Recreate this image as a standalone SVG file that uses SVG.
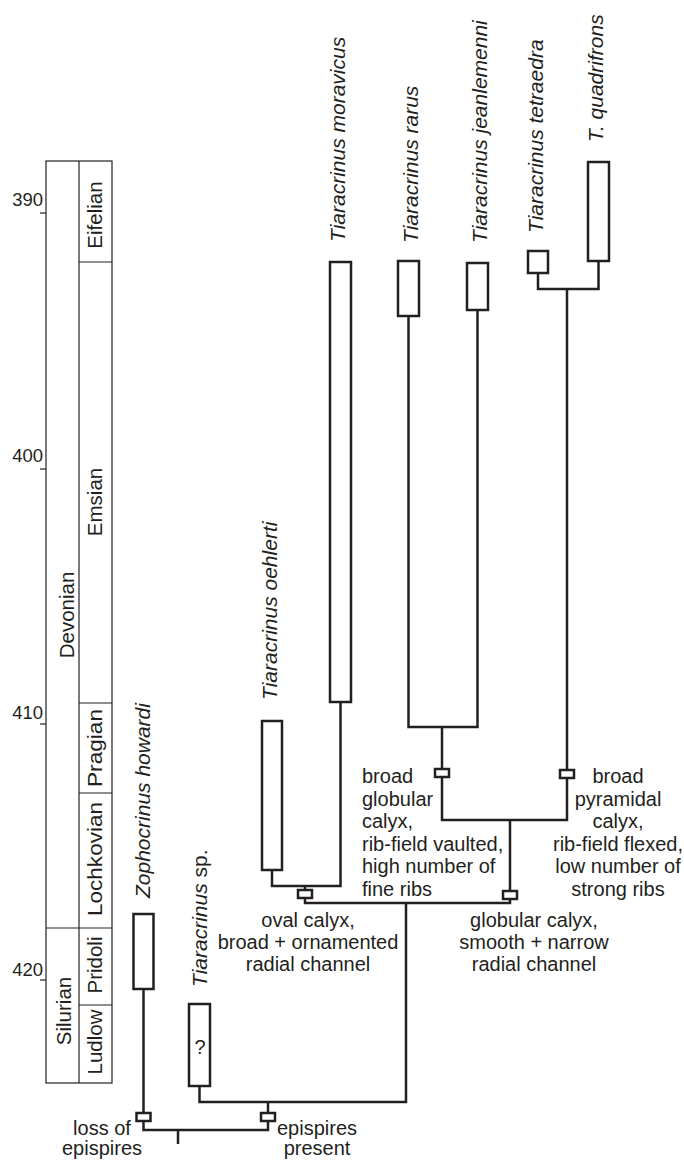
<svg xmlns="http://www.w3.org/2000/svg" width="684" height="1160" viewBox="0 0 684 1160">
<style>
.ts{fill:none;stroke:#231f20;stroke-width:1.2}
.br{fill:none;stroke:#231f20;stroke-width:2.5;stroke-linejoin:miter}
.box{fill:#fff;stroke:#231f20;stroke-width:2.5}
.mk{fill:#fff;stroke:#231f20;stroke-width:2.5}
text{font-family:"Liberation Sans",Arial,Helvetica,sans-serif;fill:#231f20}
.sp{font-size:21px;font-style:italic}
.lb{font-size:20px}
.age{font-size:18.5px;text-anchor:end}
.unit{font-size:20.5px;text-anchor:middle}
</style>
<rect width="684" height="1160" fill="#fff"/>
<g id="timescale">
<rect class="ts" x="46" y="161" width="66" height="922"/>
<line class="ts" x1="79" y1="161" x2="79" y2="1083"/>
<line class="ts" x1="79" y1="262" x2="112" y2="262"/>
<line class="ts" x1="79" y1="703" x2="112" y2="703"/>
<line class="ts" x1="79" y1="793" x2="112" y2="793"/>
<line class="ts" x1="46" y1="928" x2="112" y2="928"/>
<line class="ts" x1="79" y1="1005" x2="112" y2="1005"/>
<line class="ts" x1="40" y1="213" x2="46" y2="213"/>
<line class="ts" x1="40" y1="469" x2="46" y2="469"/>
<line class="ts" x1="40" y1="724" x2="46" y2="724"/>
<line class="ts" x1="40" y1="980" x2="46" y2="980"/>
<text class="age" x="43" y="206">390</text>
<text class="age" x="43" y="462">400</text>
<text class="age" x="43" y="719">410</text>
<text class="age" x="43" y="976">420</text>
<text class="unit" transform="translate(101.5,215) rotate(-90)">Eifelian</text>
<text class="unit" transform="translate(101.5,502) rotate(-90)">Emsian</text>
<text class="unit" transform="translate(101.5,748) rotate(-90)" textLength="78" lengthAdjust="spacingAndGlyphs">Pragian</text>
<text class="unit" transform="translate(101.5,859) rotate(-90)" textLength="114" lengthAdjust="spacingAndGlyphs">Lochkovian</text>
<text class="unit" transform="translate(101.5,965) rotate(-90)">Pridoli</text>
<text class="unit" transform="translate(101.5,1042) rotate(-90)">Ludlow</text>
<text class="unit" transform="translate(74,615) rotate(-90)">Devonian</text>
<text class="unit" transform="translate(71,1011) rotate(-90)">Silurian</text>
</g>
<g id="connectors">
<path class="br" d="M538,273 V289 H598.5 V261"/>
<path class="br" d="M567,289 V770"/>
<path class="br" d="M567,778 V820 H442 V778"/>
<path class="br" d="M442,769 V727"/>
<path class="br" d="M408.5,316 V727 H477.5 V310"/>
<path class="br" d="M510,820 V891"/>
<path class="br" d="M510,899 V903 H305 V899"/>
<path class="br" d="M305,890 V886"/>
<path class="br" d="M272,870 V886 H340.5 V702"/>
<path class="br" d="M406,903 V1102 H199.5 V1086"/>
<path class="br" d="M268,1102 V1113"/>
<path class="br" d="M268,1121 V1130 H143.5 V1121"/>
<path class="br" d="M143.5,1113 V989"/>
<path class="br" d="M178,1130 V1144"/>
</g>
<g id="markers">
<rect class="mk" x="560" y="770" width="14" height="8"/>
<rect class="mk" x="435" y="769" width="14" height="8"/>
<rect class="mk" x="503" y="891" width="14" height="8"/>
<rect class="mk" x="298" y="890" width="14" height="8"/>
<rect class="mk" x="261" y="1113" width="14" height="8"/>
<rect class="mk" x="136.5" y="1113" width="14" height="8"/>
</g>
<g id="node-moravicus">
<rect class="box" x="330" y="262" width="21" height="440"/>
<text class="sp" transform="translate(345,242) rotate(-90)">Tiaracrinus moravicus</text>
</g>
<g id="node-rarus">
<rect class="box" x="398" y="261" width="21" height="55"/>
<text class="sp" transform="translate(418,243) rotate(-90)">Tiaracrinus rarus</text>
</g>
<g id="node-jeanlemenni">
<rect class="box" x="467" y="263" width="21" height="47"/>
<text class="sp" transform="translate(487,243) rotate(-90)">Tiaracrinus jeanlemenni</text>
</g>
<g id="node-tetraedra">
<rect class="box" x="528" y="251" width="20" height="22"/>
<text class="sp" transform="translate(543,233) rotate(-90)">Tiaracrinus tetraedra</text>
</g>
<g id="node-quadrifrons">
<rect class="box" x="588" y="162" width="21" height="99"/>
<text class="sp" transform="translate(603,142) rotate(-90)">T. quadrifrons</text>
</g>
<g id="node-oehlerti">
<rect class="box" x="262" y="721" width="20" height="149"/>
<text class="sp" transform="translate(277,700) rotate(-90)">Tiaracrinus oehlerti</text>
</g>
<g id="node-zophocrinus">
<rect class="box" x="133.5" y="914" width="20" height="75"/>
<text class="sp" transform="translate(150,898) rotate(-90)">Zophocrinus howardi</text>
</g>
<g id="node-tiaracrinus-sp">
<rect class="box" x="189" y="1004" width="21" height="82"/>
<text class="lb" x="200" y="1054" text-anchor="middle">?</text>
<text class="sp" transform="translate(207,987) rotate(-90)">Tiaracrinus<tspan font-style="normal"> sp.</tspan></text>
</g>
<g id="label-broad-globular">
<text class="lb" x="362" y="783">broad</text>
<text class="lb" x="362" y="806">globular</text>
<text class="lb" x="362" y="828">calyx,</text>
<text class="lb" x="362" y="851">rib-field vaulted,</text>
<text class="lb" x="362" y="873">high number of</text>
<text class="lb" x="362" y="896">fine ribs</text>
</g>
<g id="label-broad-pyramidal" text-anchor="middle">
<text class="lb" x="618" y="783">broad</text>
<text class="lb" x="618" y="806">pyramidal</text>
<text class="lb" x="618" y="828">calyx,</text>
<text class="lb" x="618" y="851">rib-field flexed,</text>
<text class="lb" x="618" y="873">low number of</text>
<text class="lb" x="618" y="896">strong ribs</text>
</g>
<g id="label-oval" text-anchor="middle">
<text class="lb" x="308" y="927">oval calyx,</text>
<text class="lb" x="308" y="949">broad + ornamented</text>
<text class="lb" x="308" y="971">radial channel</text>
</g>
<g id="label-globular" text-anchor="middle">
<text class="lb" x="534" y="927">globular calyx,</text>
<text class="lb" x="534" y="949">smooth + narrow</text>
<text class="lb" x="534" y="971">radial channel</text>
</g>
<g id="label-loss" text-anchor="middle">
<text class="lb" x="102" y="1135">loss of</text>
<text class="lb" x="102" y="1155">epispires</text>
</g>
<g id="label-present" text-anchor="middle">
<text class="lb" x="317" y="1135">epispires</text>
<text class="lb" x="317" y="1155">present</text>
</g>
</svg>
